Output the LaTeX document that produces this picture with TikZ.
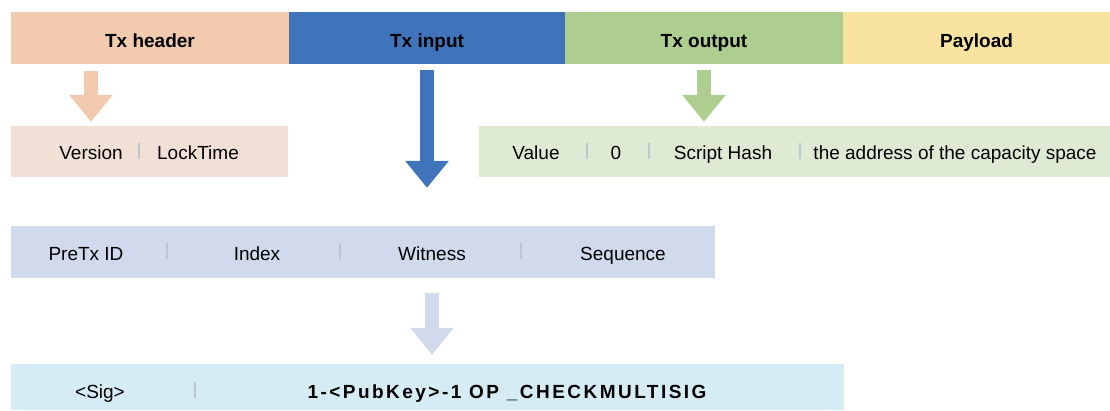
\documentclass[tikz,border=0pt]{standalone}
\usepackage{fontspec}
\setmainfont{Liberation Sans}
\usetikzlibrary{arrows.meta}
\definecolor{hdrc}{RGB}{242,203,174}
\definecolor{inpc}{RGB}{63,116,186}
\definecolor{outc}{RGB}{174,206,143}
\definecolor{payc}{RGB}{248,227,160}
\definecolor{hboxc}{RGB}{242,224,214}
\definecolor{oboxc}{RGB}{223,234,213}
\definecolor{iboxc}{RGB}{208,218,236}
\definecolor{sboxc}{RGB}{214,236,245}
\definecolor{sepc}{RGB}{188,198,210}
\begin{document}
\begin{tikzpicture}[x=1pt,y=-1pt,
    bar/.style={minimum height=52pt, inner sep=0pt, text height=19pt, text depth=0pt, font=\fontsize{19}{22}\selectfont\bfseries},
    row/.style={minimum height=51pt, inner sep=0pt},
    lbl/.style={anchor=base, inner sep=0pt, font=\fontsize{19}{22}\selectfont},
    sep/.style={line width=1.2pt, sepc},
    fat/.style={line width=14pt, -{Triangle[width=42pt,length=27pt]}}]
    \useasboundingbox (0,0) rectangle (1110,410);
    \node[bar, fill=hdrc, minimum width=278pt] (hdr) at (150,37.5) {Tx header};
    \node[bar, fill=inpc, minimum width=276pt] (inp) at (427,37.5) {Tx input};
    \node[bar, fill=outc, minimum width=278pt] (out) at (704,37.5) {Tx output};
    \node[bar, fill=payc, minimum width=267pt] (pay) at (976.5,37.5) {Payload};
    \node[row, fill=hboxc, minimum width=277pt] (hbox) at (149.5,151.5) {};
    \node[row, fill=oboxc, minimum width=631pt] (obox) at (794.5,151.5) {};
    \node[row, fill=iboxc, minimum width=704pt, minimum height=52pt] (ibox) at (363,252) {};
    \node[row, fill=sboxc, minimum width=833pt, minimum height=46pt] (sbox) at (427.5,387) {};
    \node[lbl] (ver) at (91,159) {Version};
    \node[lbl] (lock) at (198,159) {LockTime};
    \node[lbl] (val) at (536,159) {Value};
    \node[lbl] (zero) at (616,159) {0};
    \node[lbl] (hash) at (723,159) {Script Hash};
    \node[lbl] (addr) at (955,159) {the address of the capacity space};
    \node[lbl] (pre) at (86,260) {PreTx ID};
    \node[lbl] (idx) at (257,260) {Index};
    \node[lbl] (wit) at (432,260) {Witness};
    \node[lbl] (seqn) at (623,260) {Sequence};
    \node[lbl] (sig) at (100,398) {<Sig>};
    \node[lbl, font=\fontsize{19}{22}\selectfont\bfseries] (msig) at (507,398)
      {\addfontfeature{LetterSpace=13}1-<PubKey>-1 OP \_CHECKMULTISIG};
    \foreach \x/\y in {139/151, 587/151, 649/151, 800/151, 167/251, 340/251, 521/251, 195/390}
      \draw[sep] (\x,\y-8) -- (\x,\y+8);
    \draw[fat, hdrc, shorten <=7pt, shorten >=4pt] (hdr.south -| ver) -- (hbox.north -| ver);
    \draw[fat, inpc, shorten <=6pt, shorten >=38pt] (inp.south) -- (inp.south |- ibox.north);
    \draw[fat, outc, shorten <=6pt, shorten >=4pt] (out.south) -- (out.south |- obox.north);
    \draw[fat, iboxc, shorten <=15pt, shorten >=9pt] (ibox.south -| wit) -- (sbox.north -| wit);
\end{tikzpicture}
\end{document}
